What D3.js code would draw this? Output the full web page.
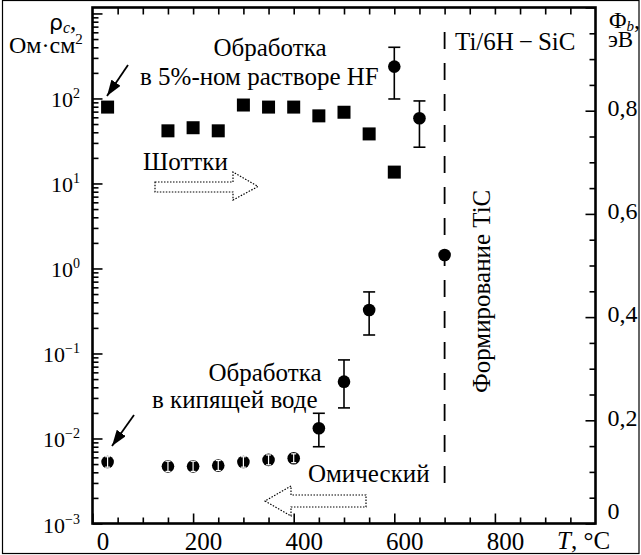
<!DOCTYPE html>
<html>
<head>
<meta charset="utf-8">
<script src="https://cdn.jsdelivr.net/npm/d3@7"></script>
<style>
  body { margin: 0; background: #fff; }
  svg { display: block; }
  text { font-family: "Liberation Serif", "Times New Roman", serif; fill: #000; }
</style>
</head>
<body>
<script>
// ohmic contacts (boiling water treatment): rho_c vs T
var ohmicT  = [30, 150, 200, 250, 300, 350, 400, 450, 500, 550, 600, 650, 700];
var rhoC    = [5.3e-3, 4.7e-3, 4.7e-3, 4.8e-3, 5.3e-3, 5.6e-3, 5.85e-3, 1.32e-2, 4.66e-2, 0.325, 237, 58.5, 1.44];
var rhoLo   = [4.6e-3, 4.1e-3, 4.1e-3, 4.2e-3, 4.6e-3, 4.9e-3, 5.2e-3, 8.0e-3, 2.29e-2, 0.165, 98.6, 26.7, 1.44];
var rhoHi   = [6.1e-3, 5.4e-3, 5.4e-3, 5.5e-3, 6.1e-3, 6.4e-3, 6.6e-3, 1.98e-2, 8.4e-2, 0.53, 400, 93.5, 1.44];

// Schottky contacts (5% HF): barrier height vs T
var schottkyT = [30, 150, 200, 250, 300, 350, 400, 450, 500, 550, 600];
var phiB      = [0.807, 0.761, 0.767, 0.761, 0.811, 0.807, 0.807, 0.790, 0.797, 0.755, 0.681];

var formationT = 700;

var xMajor = [0, 200, 400, 600, 800];
var xLabels = ["0", "200", "400", "600", "800"];
var decades = [-3, -2, -1, 0, 1, 2];
var phiMajor = [0, 0.2, 0.4, 0.6, 0.8];
var phiLabels = ["0", "0,2", "0,4", "0,6", "0,8"];

var W = 641, H = 555;
var pL = 92.5, pR = 595.5, pT = 7.5, pB = 523.5;

var svg = d3.select("body").append("svg")
  .attr("width", W).attr("height", H);

svg.append("rect").attr("width", W).attr("height", H).attr("fill", "#fff");
// outer frame
svg.append("rect")
  .attr("x", 2.5).attr("y", 0.5).attr("width", 636.5).attr("height", 553)
  .attr("fill", "none").attr("stroke", "#000").attr("stroke-width", 1.2);

var x = d3.scaleLinear().domain([0, 1000]).range([pL, pR]);
var yL = d3.scaleLog().domain([1e-3, Math.pow(10, 3.07)]).range([pB, pT]);
var yR = d3.scaleLinear().domain([0, 1]).range([pB, pT]);

// minor tick values
var xMinor = d3.range(50, 1000, 50).filter(function(d) { return d % 200 !== 0; });
var logMinor = [];
for (var k = -3; k <= 2; k++) {
  for (var m = 2; m <= 9; m++) logMinor.push(m * Math.pow(10, k));
}
var phiMinor = d3.range(0.05, 1.0, 0.05).filter(function(d) { return Math.abs(d * 5 - Math.round(d * 5)) > 1e-6; });

function styleAxis(g) {
  g.select(".domain").remove();
  g.selectAll(".tick line").attr("stroke", "#000").attr("stroke-width", 1.6);
}

// bottom axis
svg.append("g").attr("transform", "translate(0," + pB + ")")
  .call(d3.axisBottom(x).tickValues(xMinor).tickSize(-6).tickFormat(""))
  .call(styleAxis);
var xb = svg.append("g").attr("transform", "translate(0," + pB + ")")
  .call(d3.axisBottom(x).tickValues(xMajor).tickSize(-10).tickFormat(function(d, i) { return xLabels[i]; }))
  .call(styleAxis);
xb.selectAll(".tick text")
  .attr("font-size", 25).attr("y", 26.5).attr("dy", 0).attr("dx", 10)
  .attr("font-family", "Liberation Serif, serif");

// top axis (ticks only)
svg.append("g").attr("transform", "translate(0," + pT + ")")
  .call(d3.axisTop(x).tickValues(d3.range(50, 1000, 50)).tickSize(-7).tickFormat(""))
  .call(styleAxis);

// left log axis
svg.append("g").attr("transform", "translate(" + pL + ",0)")
  .call(d3.axisLeft(yL).tickValues(logMinor).tickSize(-6).tickFormat(""))
  .call(styleAxis);
var yl = svg.append("g").attr("transform", "translate(" + pL + ",0)")
  .call(d3.axisLeft(yL).tickValues(decades.map(function(e) { return Math.pow(10, e); }).concat([1000]))
    .tickSize(-10).tickFormat(""))
  .call(styleAxis);
yl.selectAll(".tick").each(function(d) {
  var e = Math.round(Math.log10(d));
  if (decades.indexOf(e) < 0) return;
  var t = d3.select(this).select("text")
    .attr("x", -12.5).attr("dy", 0).attr("y", 8.5)
    .attr("text-anchor", "end").attr("font-size", 22)
    .attr("font-family", "Liberation Serif, serif");
  t.append("tspan").text("10");
  t.append("tspan").attr("dy", -9).attr("font-size", 14)
    .text(e < 0 ? "\u2212" + (-e) : String(e));
});

// right axis
svg.append("g").attr("transform", "translate(" + pR + ",0)")
  .call(d3.axisRight(yR).tickValues(phiMinor).tickSize(-6).tickFormat(""))
  .call(styleAxis);
var yr = svg.append("g").attr("transform", "translate(" + pR + ",0)")
  .call(d3.axisRight(yR).tickValues(phiMajor.concat([1])).tickSize(-10)
    .tickFormat(function(d) { var i = phiMajor.indexOf(d); return i < 0 ? "" : phiLabels[i]; }))
  .call(styleAxis);
yr.selectAll(".tick text")
  .attr("x", 12).attr("font-size", 24)
  .attr("font-family", "Liberation Serif, serif")
  .attr("dy", function(d) { return d === 0 ? "-0.2em" : "0.2em"; });

// plot frame
svg.append("rect")
  .attr("x", pL).attr("y", pT).attr("width", pR - pL).attr("height", pB - pT)
  .attr("fill", "none").attr("stroke", "#000").attr("stroke-width", 2.6);

// TiC formation line
svg.append("line")
  .attr("x1", x(formationT)).attr("x2", x(formationT))
  .attr("y1", 32).attr("y2", 497)
  .attr("stroke", "#000").attr("stroke-width", 1.8)
  .attr("stroke-dasharray", "17,14");

// Schottky squares
var sq = 13;
svg.append("g").selectAll("rect")
  .data(schottkyT)
  .join("rect")
  .attr("x", function(d) { return x(d) - sq / 2; })
  .attr("y", function(d, i) { return yR(phiB[i]) - sq / 2; })
  .attr("width", sq).attr("height", sq)
  .attr("fill", "#000");

// ohmic circles with error bars
var r = 6.3, cap = 6;
var pts = svg.append("g");
pts.selectAll("circle")
  .data(ohmicT)
  .join("circle")
  .attr("cx", function(d) { return x(d); })
  .attr("cy", function(d, i) { return yL(rhoC[i]); })
  .attr("r", r).attr("fill", "#000");

ohmicT.forEach(function(t, i) {
  if (rhoLo[i] === rhoHi[i]) return;
  var cx = x(t), y0 = yL(rhoC[i]), ylo = yL(rhoLo[i]), yhi = yL(rhoHi[i]);
  var inside = (ylo - y0) < r && (y0 - yhi) < r;
  var col = inside ? "#fff" : "#000";
  var c = inside ? 2.5 : cap;
  var g = pts.append("g").attr("stroke", col).attr("stroke-width", inside ? 1.2 : 1.6);
  g.append("line").attr("x1", cx).attr("x2", cx).attr("y1", ylo).attr("y2", yhi);
  g.append("line").attr("x1", cx - c).attr("x2", cx + c).attr("y1", ylo).attr("y2", ylo);
  g.append("line").attr("x1", cx - c).attr("x2", cx + c).attr("y1", yhi).attr("y2", yhi);
});

// axis titles
var lt = svg.append("text").attr("x", 49).attr("y", 30).attr("font-size", 25);
lt.append("tspan").attr("font-family", "DejaVu Sans, sans-serif").attr("font-size", 22).text("\u03c1");
lt.append("tspan").attr("font-style", "italic").attr("font-size", 16).attr("dy", 3).text("c");
lt.append("tspan").attr("dy", -3).text(",");
var lu = svg.append("text").attr("x", 9).attr("y", 53).attr("font-size", 24);
lu.append("tspan").text("\u041e\u043c\u00b7\u0441\u043c");
lu.append("tspan").attr("dy", -9).attr("font-size", 15).text("2");

var rt = svg.append("text").attr("x", 609).attr("y", 28).attr("font-size", 24);
rt.append("tspan").text("\u03a6");
rt.append("tspan").attr("font-style", "italic").attr("font-size", 15).attr("dy", 3).text("b");
rt.append("tspan").attr("dy", -3).text(",");
svg.append("text").attr("x", 608).attr("y", 47).attr("font-size", 23).text("\u044d\u0412");

var xt = svg.append("text").attr("x", 557).attr("y", 549).attr("font-size", 25);
xt.append("tspan").attr("font-style", "italic").text("T");
xt.append("tspan").text(", \u00b0C");

// annotations
function label(txt, px, py, anchor) {
  return svg.append("text").attr("x", px).attr("y", py)
    .attr("font-size", 25).attr("text-anchor", anchor || "start").text(txt);
}
label("\u041e\u0431\u0440\u0430\u0431\u043e\u0442\u043a\u0430", 270, 56, "middle");
label("\u0432 5%-\u043d\u043e\u043c \u0440\u0430\u0441\u0442\u0432\u043e\u0440\u0435 HF", 140, 85);
label("\u0428\u043e\u0442\u0442\u043a\u0438", 143, 170);
label("\u041e\u0431\u0440\u0430\u0431\u043e\u0442\u043a\u0430", 265, 381, "middle");
label("\u0432 \u043a\u0438\u043f\u044f\u0449\u0435\u0439 \u0432\u043e\u0434\u0435", 152, 408);
label("\u041e\u043c\u0438\u0447\u0435\u0441\u043a\u0438\u0439", 308, 482);
label("Ti/6H\u2009\u2212\u2009SiC", 455, 50);
svg.append("text")
  .attr("transform", "translate(490,393) rotate(-90)")
  .attr("font-size", 25).text("\u0424\u043e\u0440\u043c\u0438\u0440\u043e\u0432\u0430\u043d\u0438\u0435 TiC");

// solid arrows to the first points
var defs = svg.append("defs");
defs.append("marker").attr("id", "head")
  .attr("viewBox", "0 0 16 11").attr("refX", 16).attr("refY", 5.5)
  .attr("markerWidth", 16).attr("markerHeight", 11)
  .attr("markerUnits", "userSpaceOnUse").attr("orient", "auto")
  .append("path").attr("d", "M0,0L16,5.5L0,11z").attr("fill", "#000");

[[128, 65, 107, 96], [134, 415, 112, 446]].forEach(function(a) {
  svg.append("line")
    .attr("x1", a[0]).attr("y1", a[1]).attr("x2", a[2]).attr("y2", a[3])
    .attr("stroke", "#000").attr("stroke-width", 1.8)
    .attr("marker-end", "url(#head)");
});

// dotted block arrows
function blockArrow(p) {
  svg.append("path")
    .attr("d", d3.line()(p) + "Z")
    .attr("fill", "none").attr("stroke", "#000").attr("stroke-width", 1.2)
    .attr("stroke-dasharray", "1.5,1.5");
}
blockArrow([[155, 182], [233, 182], [233, 172], [258, 186.5], [233, 200], [233, 192], [155, 192]]);
blockArrow([[366, 495], [291, 495], [291, 486], [265, 501], [291, 516], [291, 507], [366, 507]]);
</script>
</body>
</html>
